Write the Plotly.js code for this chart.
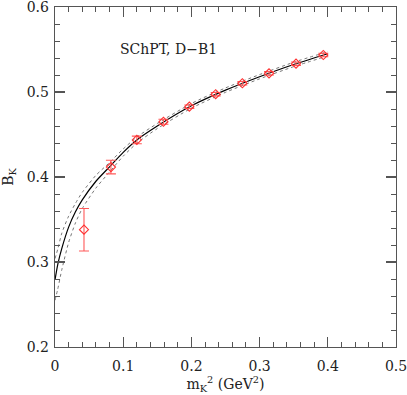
<!DOCTYPE html>
<html>
<head>
<meta charset="utf-8">
<script src="https://cdn.plot.ly/plotly-3.0.1.min.js"></script>
<style>html,body{margin:0;padding:0;background:#fff;}#chart{width:407px;height:395px;}</style>
</head>
<body>
<div id="chart"></div>
<script>
// Data points (m_K^2 in GeV^2, B_K) with errors
const mK2 = [0.0425, 0.082, 0.120, 0.159, 0.197, 0.2356, 0.2747, 0.3138, 0.3534, 0.3934];
const bK = [0.338, 0.4117, 0.4436, 0.465, 0.4827, 0.4974, 0.5103, 0.522, 0.5333, 0.5435];
const bKerr = [0.025, 0.008, 0.0045, 0.003, 0.002, 0.002, 0.002, 0.002, 0.002, 0.002];

// Fit curve and error band
const fitX = [0, 0.004, 0.01, 0.02, 0.03, 0.04, 0.06, 0.08, 0.10, 0.12, 0.15, 0.20, 0.25, 0.30, 0.35, 0.40];
const fitMid = [0.279, 0.297, 0.316, 0.341, 0.359, 0.373, 0.395, 0.412, 0.429, 0.4436, 0.460, 0.4838, 0.5022, 0.518, 0.5324, 0.545];
const fitUp = [0.304, 0.315, 0.334, 0.354, 0.369, 0.382, 0.402, 0.417, 0.433, 0.447, 0.463, 0.4865, 0.5048, 0.5205, 0.535, 0.5475];
const fitLo = [0.255, 0.268, 0.291, 0.323, 0.346, 0.363, 0.387, 0.406, 0.4245, 0.4398, 0.457, 0.481, 0.4996, 0.5155, 0.5298, 0.5425];

const xTitle = 'm<sub>K</sub><sup>2</sup> (GeV<sup>2</sup>)';
const yTitle = 'B<sub>K</sub>';
const label = 'SChPT, D\u2212B1';

const FONT = 'DejaVu Serif, Liberation Serif, serif';

const traces = [
  {x: fitX, y: fitUp, mode: 'lines', line: {color: '#777', width: 1, dash: 'dot', shape: 'spline', smoothing: 0.6}, hoverinfo: 'skip'},
  {x: fitX, y: fitLo, mode: 'lines', line: {color: '#777', width: 1, dash: 'dot', shape: 'spline', smoothing: 0.6}, hoverinfo: 'skip'},
  {x: fitX, y: fitMid, mode: 'lines', line: {color: '#000', width: 1.2, shape: 'spline', smoothing: 0.6}, hoverinfo: 'skip'},
  {x: mK2, y: bK, mode: 'markers',
   marker: {symbol: 'diamond-open', size: 7, color: '#ff3030', line: {width: 1.1, color: '#ff3030'}},
   error_y: {type: 'data', array: bKerr, visible: true, color: '#ff5a5a', thickness: 1.1, width: 5}}
];

const axisCommon = {
  showgrid: false, zeroline: false, showline: true, linecolor: '#555', linewidth: 1.3,
  mirror: 'allticks', ticks: 'inside', ticklen: 10, tickwidth: 1.2, tickcolor: '#555',
  ticklabeloverflow: 'allow',
  tickfont: {family: FONT, size: 14, color: '#222'},
  minor: {ticks: 'inside', ticklen: 5, tickwidth: 1, tickcolor: '#555', dtick: 0.02}
};

const layout = {
  width: 407, height: 395,
  margin: {l: 55, r: 11, t: 7, b: 48},
  paper_bgcolor: '#fff', plot_bgcolor: '#fff',
  showlegend: false,
  xaxis: Object.assign({}, axisCommon, {range: [0, 0.5], dtick: 0.1, tick0: 0, ticklabelstandoff: 6,
    title: {text: xTitle, font: {family: FONT, size: 14, color: '#222'}, standoff: 5}}),
  yaxis: Object.assign({}, axisCommon, {range: [0.2, 0.6], dtick: 0.1, tick0: 0.2, ticklabelstandoff: 2,
    title: {text: yTitle, font: {family: FONT, size: 14, color: '#222'}, standoff: 12}}),
  annotations: [{x: 0.0924, y: 0.551, xref: 'x', yref: 'y', xanchor: 'left', yanchor: 'middle',
    text: label, showarrow: false, font: {family: FONT, size: 14, color: '#222'}}]
};

Plotly.newPlot('chart', traces, layout, {displayModeBar: false, staticPlot: true});
</script>
</body>
</html>
